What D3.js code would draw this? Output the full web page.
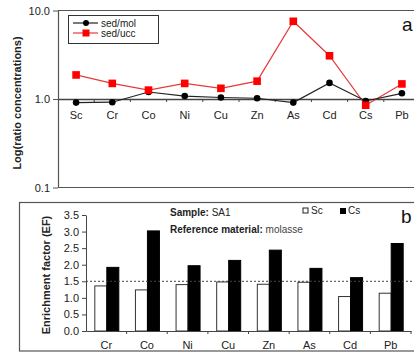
<!DOCTYPE html>
<html>
<head>
<meta charset="utf-8">
<script src="https://cdn.jsdelivr.net/npm/d3@7/dist/d3.min.js"></script>
<style>
  html, body { margin: 0; padding: 0; background: #fff; }
  svg { display: block; font-family: Arial, "Liberation Sans", sans-serif; }
</style>
</head>
<body>
<svg id="chart" width="414" height="356"></svg>
<script>
// Panel a: ratio of sediment concentrations to molasse and to upper continental crust
const elementsA = ["Sc", "Cr", "Co", "Ni", "Cu", "Zn", "As", "Cd", "Cs", "Pb"];
const sedMol = [0.91, 0.92, 1.20, 1.08, 1.04, 1.02, 0.91, 1.52, 0.95, 1.16];
const sedUcc = [1.87, 1.50, 1.26, 1.50, 1.32, 1.59, 7.55, 3.08, 0.85, 1.48];
const logTicks = [0.1, 1, 10];
const logTickLabels = ["0.1", "1.0", "10.0"];

// Panel b: enrichment factors normalised to Sc and to Cs
const elementsB = ["Cr", "Co", "Ni", "Cu", "Zn", "As", "Cd", "Pb"];
const efSc = [1.36, 1.24, 1.40, 1.48, 1.41, 1.47, 1.04, 1.14];
const efCs = [1.92, 3.02, 1.97, 2.13, 2.44, 1.89, 1.61, 2.64];
const efTicks = [0, 0.5, 1, 1.5, 2, 2.5, 3, 3.5];
const efThreshold = 1.5;

const svg = d3.select("#chart");
const frameColor = "#555";
const axisColor = "#444";

// ---------- Panel a ----------
const ax0 = 58, ax1 = 420, ayTop = 10.5, ayBot = 187.5;
const xA = d3.scaleBand().domain(elementsA).range([ax0, ax1]);
const yA = d3.scaleLog().domain([0.1, 10]).range([ayBot, ayTop]);

const gA = svg.append("g");
// frame: top, left and bottom edges
gA.append("line").attr("x1", ax0).attr("x2", 414).attr("y1", ayTop).attr("y2", ayTop)
  .attr("stroke", frameColor).attr("stroke-width", 1.2);
gA.append("line").attr("x1", ax0).attr("x2", 414).attr("y1", ayBot).attr("y2", ayBot)
  .attr("stroke", frameColor).attr("stroke-width", 1.2);

const yAxisA = d3.axisLeft(yA).tickValues(logTicks)
  .tickFormat((d, i) => logTickLabels[i]).tickSize(5).tickSizeOuter(0);
const gyA = gA.append("g").attr("transform", `translate(${ax0},0)`).call(yAxisA);
gyA.select(".domain").attr("stroke", frameColor).attr("stroke-width", 1.2);
gyA.selectAll(".tick line").attr("stroke", frameColor);
gyA.selectAll("text").attr("font-size", 11).attr("fill", "#222").attr("font-family", "Arial, 'Liberation Sans', sans-serif");

// category axis drawn along the 1.0 reference line
const xAxisA = d3.axisBottom(xA).tickSize(0).tickSizeOuter(0);
const gxA = gA.append("g").attr("transform", `translate(0,${yA(1)})`).call(xAxisA);
gxA.select(".domain").attr("stroke", axisColor).attr("stroke-width", 1.3);
gxA.selectAll("text").attr("dy", "1.55em").attr("font-size", 11).attr("fill", "#222")
  .attr("font-family", "Arial, 'Liberation Sans', sans-serif");
gA.append("g").selectAll("line")
  .data(elementsA.slice(1))
  .join("line")
  .attr("x1", d => xA(d)).attr("x2", d => xA(d))
  .attr("y1", yA(1)).attr("y2", yA(1) + 3)
  .attr("stroke", axisColor);

const cxA = d => xA(d) + xA.bandwidth() / 2;
const line = d3.line().x(d => cxA(d.k)).y(d => yA(d.v));
const molPts = elementsA.map((k, i) => ({ k, v: sedMol[i] }));
const uccPts = elementsA.map((k, i) => ({ k, v: sedUcc[i] }));

gA.append("path").datum(uccPts).attr("d", line)
  .attr("fill", "none").attr("stroke", "#e8383a").attr("stroke-width", 1.2);
gA.append("path").datum(molPts).attr("d", line)
  .attr("fill", "none").attr("stroke", "#222").attr("stroke-width", 1.2);
gA.append("g").selectAll("circle").data(molPts).join("circle")
  .attr("cx", d => cxA(d.k)).attr("cy", d => yA(d.v)).attr("r", 3.3).attr("fill", "#000");
gA.append("g").selectAll("rect").data(uccPts).join("rect")
  .attr("x", d => cxA(d.k) - 3.8).attr("y", d => yA(d.v) - 3.8)
  .attr("width", 7.6).attr("height", 7.6).attr("fill", "#f00");

// legend
const lgA = gA.append("g");
lgA.append("rect").attr("x", 68.5).attr("y", 15.5).attr("width", 90).attr("height", 28)
  .attr("fill", "#fff").attr("stroke", "#333").attr("stroke-width", 1);
const legA = [{ name: "sed/mol", c: "#222", shape: "circle" }, { name: "sed/ucc", c: "#e8383a", shape: "square" }];
legA.forEach((d, i) => {
  const yy = 23 + i * 10;
  lgA.append("line").attr("x1", 73).attr("x2", 98).attr("y1", yy).attr("y2", yy)
    .attr("stroke", d.c).attr("stroke-width", 1.2);
  if (d.shape === "circle") {
    lgA.append("circle").attr("cx", 86).attr("cy", yy).attr("r", 3).attr("fill", "#000");
  } else {
    lgA.append("rect").attr("x", 82.5).attr("y", yy - 3.5).attr("width", 7).attr("height", 7).attr("fill", "#f00");
  }
  lgA.append("text").attr("x", 101).attr("y", yy + 3.5).attr("font-size", 10).attr("fill", "#222").text(d.name);
});

gA.append("text").attr("x", 402).attr("y", 31).attr("font-size", 19).attr("fill", "#111").text("a");
gA.append("text")
  .attr("transform", `translate(21,${(ayTop + ayBot) / 2 + 4}) rotate(-90)`)
  .attr("text-anchor", "middle").attr("font-size", 11).attr("font-weight", "bold").attr("fill", "#222")
  .text("Log(ratio concentrations)");

// ---------- Panel b ----------
const bx0 = 86, bx1 = 411, byTop = 215, byBot = 331;
const xB = d3.scaleBand().domain(elementsB).range([bx0, bx1]);
const yB = d3.scaleLinear().domain([0, 3.5]).range([byBot, byTop]);

const gB = svg.append("g");
// outer frame
gB.append("rect").attr("x", 19.5).attr("y", 202.5).attr("width", 420).attr("height", 148.5)
  .attr("fill", "none").attr("stroke", frameColor).attr("stroke-width", 1.2);

const barW = 12;
const cxB = d => xB(d) + xB.bandwidth() / 2;
gB.append("g").selectAll("rect").data(elementsB.map((k, i) => ({ k, v: efSc[i] }))).join("rect")
  .attr("x", d => cxB(d.k) - barW + 0.5).attr("y", d => yB(d.v))
  .attr("width", barW).attr("height", d => byBot - yB(d.v))
  .attr("fill", "#fff").attr("stroke", "#333").attr("stroke-width", 1);
gB.append("g").selectAll("rect").data(elementsB.map((k, i) => ({ k, v: efCs[i] }))).join("rect")
  .attr("x", d => cxB(d.k) + 0.5).attr("y", d => yB(d.v))
  .attr("width", barW).attr("height", d => byBot - yB(d.v))
  .attr("fill", "#000").attr("stroke", "#000").attr("stroke-width", 1);

// threshold line
gB.append("line").attr("x1", bx0).attr("x2", 414).attr("y1", yB(efThreshold)).attr("y2", yB(efThreshold))
  .attr("stroke", "#444").attr("stroke-width", 1).attr("stroke-dasharray", "2,2");

const yAxisB = d3.axisLeft(yB).tickValues(efTicks).tickFormat(d3.format(".1f")).tickSize(4).tickSizeOuter(0);
const gyB = gB.append("g").attr("transform", `translate(${bx0},0)`).call(yAxisB);
gyB.select(".domain").attr("stroke", axisColor);
gyB.selectAll(".tick line").attr("stroke", axisColor);
gyB.selectAll("text").attr("font-size", 11).attr("fill", "#222").attr("font-family", "Arial, 'Liberation Sans', sans-serif");

const xAxisB = d3.axisBottom(xB).tickSize(0).tickSizeOuter(0);
const gxB = gB.append("g").attr("transform", `translate(0,${byBot})`).call(xAxisB);
gxB.select(".domain").attr("stroke", axisColor);
gxB.selectAll("text").attr("dy", "1.4em").attr("font-size", 11).attr("fill", "#222")
  .attr("font-family", "Arial, 'Liberation Sans', sans-serif");
gB.append("g").selectAll("line")
  .data(elementsB.slice(1).concat(["end"]))
  .join("line")
  .attr("x1", d => d === "end" ? bx1 : xB(d)).attr("x2", d => d === "end" ? bx1 : xB(d))
  .attr("y1", byBot).attr("y2", byBot + 3)
  .attr("stroke", axisColor);

// annotations
const note = gB.append("g").attr("font-size", 10).attr("fill", "#222");
const t1 = note.append("text").attr("x", 170).attr("y", 216);
t1.append("tspan").attr("font-weight", "bold").text("Sample: ");
t1.append("tspan").text("SA1");
const t2 = note.append("text").attr("x", 170).attr("y", 233);
t2.append("tspan").attr("font-weight", "bold").text("Reference material: ");
t2.append("tspan").attr("fill", "#444").text(" molasse");

// legend
const lgB = gB.append("g").attr("font-size", 10).attr("fill", "#222");
lgB.append("rect").attr("x", 303).attr("y", 208).attr("width", 5).attr("height", 5)
  .attr("fill", "#fff").attr("stroke", "#222").attr("stroke-width", 1);
lgB.append("text").attr("x", 311).attr("y", 213.5).text("Sc");
lgB.append("rect").attr("x", 340).attr("y", 208).attr("width", 6).attr("height", 6).attr("fill", "#000");
lgB.append("text").attr("x", 348).attr("y", 213.5).text("Cs");

gB.append("text").attr("x", 401).attr("y", 223).attr("font-size", 19).attr("fill", "#111").text("b");
gB.append("text")
  .attr("transform", `translate(50,${(byTop + byBot) / 2 + 2}) rotate(-90)`)
  .attr("text-anchor", "middle").attr("font-size", 11).attr("font-weight", "bold").attr("fill", "#222")
  .text("Enrichment factor (EF)");
</script>
</body>
</html>
